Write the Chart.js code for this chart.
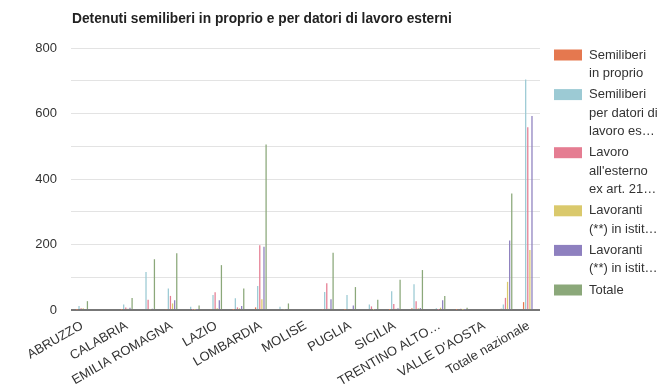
<!DOCTYPE html>
<html>
<head>
<meta charset="utf-8">
<script src="https://cdn.jsdelivr.net/npm/chart.js@4/dist/chart.umd.min.js"></script>
<style>
  html, body { margin: 0; padding: 0; background: #ffffff; }
  #wrap { width: 661px; height: 385px; position: relative; }
</style>
</head>
<body>
<div id="wrap"><canvas id="chart" width="661" height="385"></canvas></div>
<script>
// Regions, in the order of the x axis
const categories = ['ABRUZZO', 'BASILICATA', 'CALABRIA', 'CAMPANIA', 'EMILIA ROMAGNA',
  'FRIULI VENEZIA GIULIA', 'LAZIO', 'LIGURIA', 'LOMBARDIA', 'MARCHE', 'MOLISE',
  'PIEMONTE', 'PUGLIA', 'SARDEGNA', 'SICILIA', 'TOSCANA', 'TRENTINO ALTO ADIGE',
  'UMBRIA', "VALLE D'AOSTA", 'VENETO', 'Totale nazionale'];

// Labels printed under the axis (every other region)
const tickLabels = ['ABRUZZO', '', 'CALABRIA', '', 'EMILIA ROMAGNA', '', 'LAZIO', '',
  'LOMBARDIA', '', 'MOLISE', '', 'PUGLIA', '', 'SICILIA', '', 'TRENTINO ALTO\u2026', '',
  "VALLE D'AOSTA", '', 'Totale nazionale'];

const yTicks = [0, 200, 400, 600, 800];

// Series
const semiliberiInProprio = [1, 0, 1, 0, 2, 0, 2, 1, 8, 0, 0, 2, 1, 0, 1, 5, 0, 1, 0, 4, 24];
const semiliberiDatori    = [12, 0, 17, 116, 66, 10, 46, 36, 73, 10, 0, 55, 46, 17, 57, 79, 5, 0, 0, 17, 704];
const lavoroEsterno       = [5, 0, 8, 31, 43, 1, 54, 8, 198, 3, 0, 82, 3, 11, 18, 27, 1, 4, 0, 37, 558];
const lavorantiDipAmm     = [5, 0, 4, 2, 20, 1, 5, 5, 33, 2, 0, 4, 3, 1, 4, 5, 7, 1, 0, 86, 183];
const lavorantiNonDipAmm  = [3, 0, 7, 4, 30, 1, 30, 12, 193, 3, 0, 33, 14, 2, 5, 6, 30, 1, 0, 212, 592];
const totale              = [27, 0, 37, 155, 173, 14, 137, 66, 505, 20, 0, 175, 70, 31, 92, 122, 43, 7, 0, 356, null];

const seriesNames = ['Semiliberi in proprio', 'Semiliberi per datori di lavoro esterni',
  "Lavoro all'esterno ex art. 21", 'Lavoranti (**) in istituto alle dipendenze',
  'Lavoranti (**) in istituto non alle dipendenze', 'Totale'];
const legendLines = [
  ['Semiliberi', 'in proprio'],
  ['Semiliberi', 'per datori di', 'lavoro es\u2026'],
  ['Lavoro', "all'esterno", 'ex art. 21\u2026'],
  ['Lavoranti', '(**) in istit\u2026'],
  ['Lavoranti', '(**) in istit\u2026'],
  ['Totale']
];
const colors = ['#e5784f', '#9ccad4', '#e57d92', '#dac96c', '#8e80bf', '#8ba87a'];
const seriesData = [semiliberiInProprio, semiliberiDatori, lavoroEsterno,
  lavorantiDipAmm, lavorantiNonDipAmm, totale];

const FONT = "'Liberation Sans', Arial, Helvetica, sans-serif";
Chart.defaults.font.family = FONT;

// Title and wrapped legend drawn on the canvas
const decorations = {
  id: 'decorations',
  afterDraw(chart) {
    const ctx = chart.ctx;
    ctx.save();
    ctx.fillStyle = '#222222';
    ctx.font = 'bold 13.75px ' + FONT;
    ctx.textBaseline = 'middle';
    ctx.textAlign = 'left';
    ctx.fillText('Detenuti semiliberi in proprio e per datori di lavoro esterni', 72, 19);

    const lineH = 18.5, gap = 2.6;
    let y = 55;
    ctx.font = '13px ' + FONT;
    legendLines.forEach((lines, i) => {
      ctx.fillStyle = colors[i];
      ctx.fillRect(554, y - 5.5, 28, 11);
      ctx.fillStyle = '#333333';
      lines.forEach((t, k) => ctx.fillText(t, 589, y + k * lineH));
      y += lines.length * lineH + gap;
    });
    ctx.restore();
  }
};

new Chart(document.getElementById('chart'), {
  type: 'bar',
  data: {
    labels: categories,
    datasets: seriesData.map((d, i) => ({
      label: seriesNames[i],
      data: d,
      backgroundColor: colors[i],
      borderWidth: 0,
      categoryPercentage: 0.565,
      barPercentage: 0.6
    }))
  },
  options: {
    responsive: false,
    animation: false,
    devicePixelRatio: 1,
    layout: { padding: { top: 48, right: 121, bottom: 0, left: 0 } },
    plugins: {
      legend: { display: false },
      title: { display: false },
      tooltip: { enabled: false }
    },
    scales: {
      x: {
        grid: { display: false },
        border: { display: false },
        ticks: {
          autoSkip: false,
          maxRotation: 30,
          minRotation: 30,
          padding: 0,
          color: '#333333',
          font: { size: 13 },
          callback: (v, i) => tickLabels[i]
        },
        afterFit: s => { s.height = 75; }
      },
      y: {
        min: 0,
        max: 800,
        border: { display: false },
        grid: {
          drawTicks: false,
          color: c => c.tick.value === 0 ? '#777777' : '#e3e3e3',
          lineWidth: c => c.tick.value === 0 ? 2 : 1
        },
        ticks: {
          stepSize: 100,
          padding: 14,
          color: '#333333',
          font: { size: 13 },
          callback: v => yTicks.includes(v) ? String(v) : ''
        },
        afterFit: s => { s.width = 71; }
      }
    }
  },
  plugins: [decorations]
});
</script>
</body>
</html>
